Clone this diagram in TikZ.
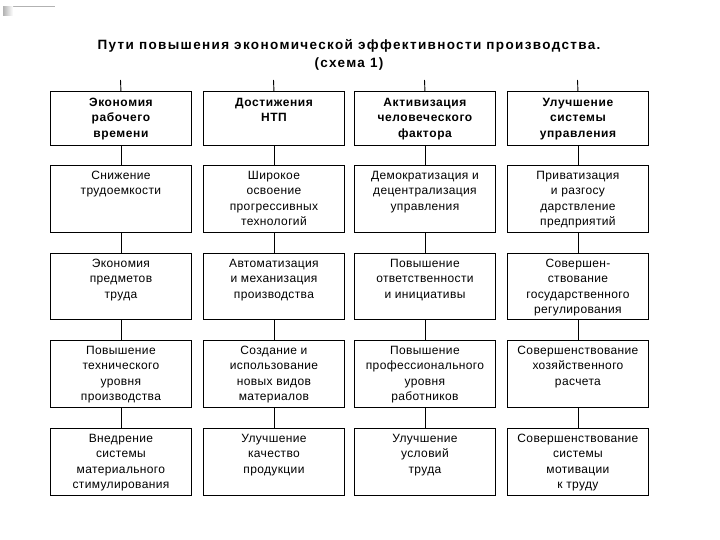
\documentclass[tikz,border=0pt]{standalone}
\usepackage{fontspec}
\setmainfont{Liberation Sans}
\newfontfamily\bodyfont[LetterSpace=3]{Liberation Sans}
\newfontfamily\headfont[LetterSpace=5]{Liberation Sans}
\newfontfamily\titlefont[LetterSpace=10]{Liberation Sans}
\newcommand{\celltext}[2]{\parbox[c][#1][t]{141pt}{\centering\bodyfont\fontsize{12}{15.3}\selectfont\rule{0pt}{14pt}#2\par}}
\newcommand{\headtext}[2]{\parbox[c][#1][t]{141pt}{\centering\headfont\fontsize{12}{15.5}\selectfont\bfseries\rule{0pt}{15pt}#2\par}}
\begin{document}
\begin{tikzpicture}[x=1pt,y=-1pt,
  cell/.style={draw, line width=0.9pt, inner sep=0pt, anchor=north west},
  conn/.style={line width=0.9pt}]
\useasboundingbox (0,0) rectangle (720,540);
\fill[white] (0,0) rectangle (720,540);
% small artifact top-left
\draw[gray!60, line width=0.7pt] (3,6.5) -- (55,6.5);
\shade[left color=gray!60, right color=white] (3,7) rectangle (13,16);
% title
\node[font=\titlefont\fontsize{13.5}{18}\selectfont\bfseries, align=center] (title) at (349,54.5)
  {Пути повышения экономической эффективности производства.\\(схема 1)};
% column tick coordinates
\coordinate (t1) at (120.5,80);
\coordinate (t2) at (273.5,80);
\coordinate (t3) at (424.5,80);
\coordinate (t4) at (577.5,80);
% row 1: headers
\node[cell] (h1) at (50,91)  {\headtext{54pt}{Экономия\\рабочего\\времени}};
\node[cell] (h2) at (203,91) {\headtext{54pt}{Достижения\\НТП}};
\node[cell] (h3) at (354,91) {\headtext{54pt}{Активизация\\человеческого\\фактора}};
\node[cell] (h4) at (507,91) {\headtext{54pt}{Улучшение\\системы\\управления}};
% row 2
\node[cell] (a1) at (50,165)  {\celltext{67pt}{Снижение\\трудоемкости}};
\node[cell] (a2) at (203,165) {\celltext{67pt}{Широкое\\освоение\\прогрессивных\\технологий}};
\node[cell] (a3) at (354,165) {\celltext{67pt}{Демократизация и\\децентрализация\\управления}};
\node[cell] (a4) at (507,165) {\celltext{67pt}{Приватизация\\и разгосу\\дарствление\\предприятий}};
% row 3
\node[cell] (b1) at (50,253)  {\celltext{66pt}{Экономия\\предметов\\труда}};
\node[cell] (b2) at (203,253) {\celltext{66pt}{Автоматизация\\и механизация\\производства}};
\node[cell] (b3) at (354,253) {\celltext{66pt}{Повышение\\ответственности\\и инициативы}};
\node[cell] (b4) at (507,253) {\celltext{66pt}{Совершен-\\ствование\\государственного\\регулирования}};
% row 4
\node[cell] (c1) at (50,340)  {\celltext{67pt}{Повышение\\технического\\уровня\\производства}};
\node[cell] (c2) at (203,340) {\celltext{67pt}{Создание и\\использование\\новых видов\\материалов}};
\node[cell] (c3) at (354,340) {\celltext{67pt}{Повышение\\профессионального\\уровня\\работников}};
\node[cell] (c4) at (507,340) {\celltext{67pt}{Совершенствование\\хозяйственного\\расчета}};
% row 5
\node[cell] (d1) at (50,428)  {\celltext{67pt}{Внедрение\\системы\\материального\\стимулирования}};
\node[cell] (d2) at (203,428) {\celltext{67pt}{Улучшение\\качество\\продукции}};
\node[cell] (d3) at (354,428) {\celltext{67pt}{Улучшение\\условий\\труда}};
\node[cell] (d4) at (507,428) {\celltext{67pt}{Совершенствование\\системы\\мотивации\\к труду}};
% connectors
\foreach \i in {1,2,3,4}{
  \draw[conn] (t\i) -- (h\i.north);
  \draw[conn] (h\i.south) -- (a\i.north);
  \draw[conn] (a\i.south) -- (b\i.north);
  \draw[conn] (b\i.south) -- (c\i.north);
  \draw[conn] (c\i.south) -- (d\i.north);
}
\end{tikzpicture}
\end{document}
